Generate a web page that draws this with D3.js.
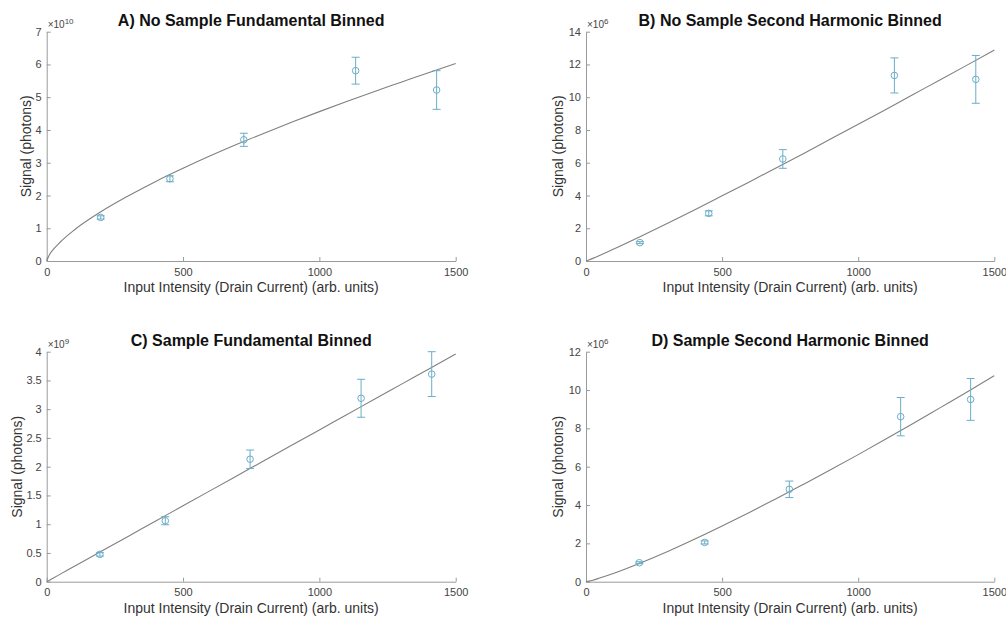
<!DOCTYPE html>
<html><head><meta charset="utf-8">
<script src="https://cdn.jsdelivr.net/npm/d3@7"></script>
<style>
body{margin:0;background:#fff;}
text{font-family:"Liberation Sans",Arial,Helvetica,sans-serif;}
</style></head><body>
<svg id="c" width="1006" height="618"></svg>
<script>
// ---- data ----
const titles = ["A) No Sample Fundamental Binned","B) No Sample Second Harmonic Binned","C) Sample Fundamental Binned","D) Sample Second Harmonic Binned"];
const exponents = ["10","6","9","6"];
const yMaxes = [7, 14, 4, 12];
const yTickValues = [[0,1,2,3,4,5,6,7],[0,2,4,6,8,10,12,14],[0,0.5,1,1.5,2,2.5,3,3.5,4],[0,2,4,6,8,10,12]];
const xTickValues = [0,500,1000,1500];
const xLabel = "Input Intensity (Drain Current) (arb. units)";
const yLabel = "Signal (photons)";

// measured points (x, mean, error) per panel
const xA = [198, 452, 723, 1133, 1430];
const yA = [1.33, 2.51, 3.70, 5.81, 5.22];
const eA = [0.05, 0.09, 0.20, 0.41, 0.59];
const xB = [198, 451, 723, 1133, 1432];
const yB = [1.12, 2.91, 6.23, 11.33, 11.09];
const eB = [0.06, 0.15, 0.57, 1.07, 1.46];
const xC = [195, 435, 746, 1153, 1412];
const yC = [0.475, 1.06, 2.13, 3.19, 3.61];
const eC = [0.03, 0.07, 0.16, 0.33, 0.39];
const xD = [196, 436, 747, 1156, 1413];
const yD = [0.99, 2.05, 4.82, 8.61, 9.51];
const eD = [0.05, 0.08, 0.43, 1.00, 1.09];

// fitted curves
const fitX = [0, 10, 25, 50, 100, 200, 300, 400, 500, 600, 700, 800, 900, 1000, 1100, 1200, 1300, 1400, 1500];
const fitA = [0, 0.19, 0.36, 0.58, 0.94, 1.51, 1.99, 2.43, 2.83, 3.21, 3.57, 3.91, 4.24, 4.56, 4.87, 5.17, 5.46, 5.75, 6.03];
const fitB = [0, 0.06, 0.16, 0.34, 0.71, 1.49, 2.30, 3.13, 3.98, 4.83, 5.70, 6.57, 7.46, 8.35, 9.24, 10.15, 11.05, 11.96, 12.88];
const fitC = [0, 0.026, 0.066, 0.132, 0.264, 0.528, 0.792, 1.056, 1.32, 1.584, 1.848, 2.112, 2.376, 2.64, 2.904, 3.168, 3.432, 3.696, 3.96];
const fitD = [0, 0.03, 0.08, 0.19, 0.43, 0.98, 1.58, 2.23, 2.91, 3.61, 4.34, 5.09, 5.85, 6.63, 7.43, 8.24, 9.07, 9.90, 10.75];

const pointsX = [xA, xB, xC, xD];
const pointsY = [yA, yB, yC, yD];
const pointsE = [eA, eB, eC, eD];
const fits = [fitA, fitB, fitC, fitD];

// ---- layout ----
const frames = [
  {l:46.7, r:455.7, t:31.7, b:261, yl:21},
  {l:586, r:994.3, t:31.7, b:261, yl:28},
  {l:46.7, r:455.7, t:351.7, b:581.7, yl:30},
  {l:586, r:994.3, t:351.7, b:581.7, yl:28}
];
const axisCol = "#9a9a9a", tickTextCol = "#444", labelCol = "#333";
const markCol = "#6aaec8", fitCol = "#808080";
const svg = d3.select("#c");

frames.forEach((f, i) => {
  const x = d3.scaleLinear().domain([0,1500]).range([f.l, f.r]);
  const y = d3.scaleLinear().domain([0,yMaxes[i]]).range([f.b, f.t]);
  const g = svg.append("g");

  // axes (MATLAB style: inward ticks)
  const xAxis = d3.axisBottom(x).tickValues(xTickValues).tickSize(-4).tickPadding(7).tickSizeOuter(0).tickFormat(d3.format("d"));
  const gx = g.append("g").attr("transform", `translate(0,${f.b})`).call(xAxis);
  const yAxis = d3.axisLeft(y).tickValues(yTickValues[i]).tickSize(-4).tickPadding(5).tickSizeOuter(0).tickFormat(d3.format("~g"));
  const gy = g.append("g").attr("transform", `translate(${f.l},0)`).call(yAxis);
  [gx, gy].forEach(a => {
    a.select(".domain").attr("stroke", axisCol).attr("stroke-width", 1);
    a.selectAll(".tick line").attr("stroke", axisCol);
    a.selectAll(".tick text").attr("fill", tickTextCol).attr("font-size", 11)
      .attr("font-family", "'Liberation Sans',Arial,sans-serif");
  });

  // exponent label
  const ex = g.append("text").attr("x", f.l + 1).attr("y", f.t - 4)
    .attr("fill", tickTextCol).attr("font-size", 10);
  ex.append("tspan").text("\u00d710");
  ex.append("tspan").attr("dy", -4).attr("font-size", 8).text(exponents[i]);

  // title
  g.append("text").attr("x", (f.l + f.r) / 2).attr("y", f.t - 6)
    .attr("text-anchor", "middle").attr("font-weight", "bold").attr("font-size", 16)
    .attr("fill", "#111").text(titles[i]);

  // axis labels
  g.append("text").attr("x", (f.l + f.r) / 2).attr("y", f.b + 31)
    .attr("text-anchor", "middle").attr("font-size", 14).attr("fill", labelCol).text(xLabel);
  g.append("text").attr("transform", `translate(${f.l - f.yl + 5},${(f.t + f.b) / 2}) rotate(-90)`)
    .attr("text-anchor", "middle").attr("font-size", 14).attr("fill", labelCol).text(yLabel);

  // fit curve
  const line = d3.line().x(d => x(d[0])).y(d => y(d[1])).curve(d3.curveMonotoneX);
  g.append("path").datum(fitX.map((v, k) => [v, fits[i][k]]))
    .attr("d", line).attr("fill", "none").attr("stroke", fitCol).attr("stroke-width", 1.1);

  // error bars + markers
  const pts = pointsX[i].map((v, k) => ({x: v, y: pointsY[i][k], e: pointsE[i][k]}));
  const eg = g.append("g").attr("stroke", markCol).attr("fill", "none").attr("stroke-width", 1);
  pts.forEach(p => {
    const cx = x(p.x), y0 = y(p.y - p.e), y1 = y(p.y + p.e);
    eg.append("line").attr("x1", cx).attr("x2", cx).attr("y1", y0).attr("y2", y1);
    eg.append("line").attr("x1", cx - 4).attr("x2", cx + 4).attr("y1", y0).attr("y2", y0);
    eg.append("line").attr("x1", cx - 4).attr("x2", cx + 4).attr("y1", y1).attr("y2", y1);
    eg.append("circle").attr("cx", cx).attr("cy", y(p.y)).attr("r", 3.3);
  });
});
</script>
</body></html>
